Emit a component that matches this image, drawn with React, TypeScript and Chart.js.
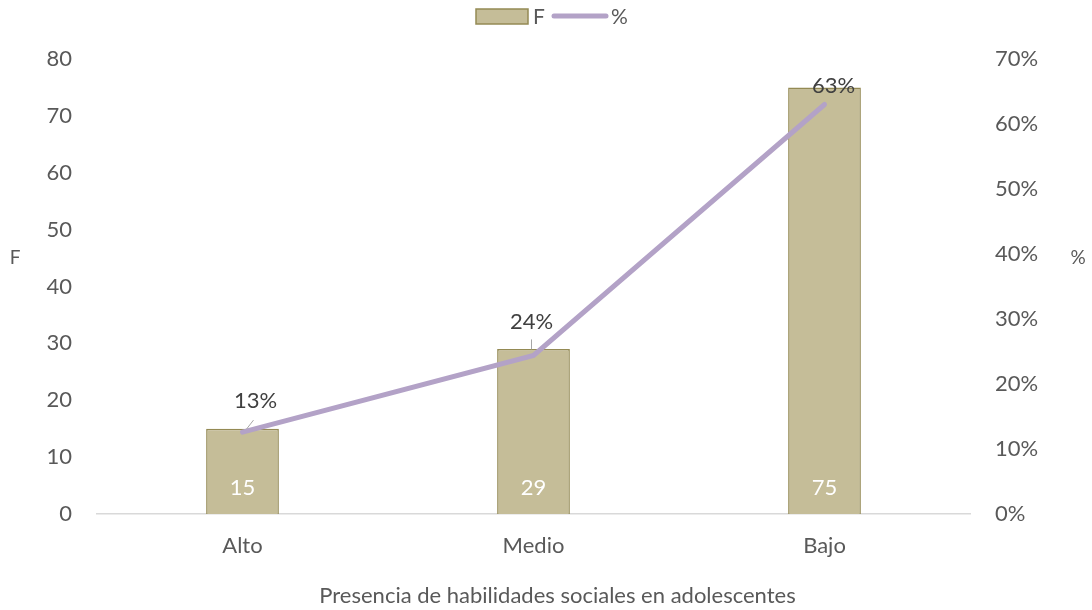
import React, { useEffect, useRef } from "react";
import { Chart, registerables } from "chart.js";

Chart.register(...registerables);

const categories = ["Alto", "Medio", "Bajo"];
const freqValues = [15, 29, 75];
const pctValues = [12.6, 24.4, 63.0];
const pctLabels = ["13%", "24%", "63%"];
const leftTicksMax = 80;
const rightTicksMax = 70;
const xTitle = "Presencia de habilidades sociales en adolescentes";
const seriesNames = ["F", "%"];

const FONT = "Lato, 'Liberation Sans', sans-serif";
const BAR_FILL = "#c5bd98";
const BAR_BORDER = "#948a54";
const LINE_COLOR = "#b3a2c7";

const labelPlugin = {
  id: "customLabels",
  afterDatasetsDraw(chart: any) {
    const ctx = chart.ctx;
    ctx.save();
    const barMeta = chart.getDatasetMeta(0);
    ctx.font = `22px ${FONT}`;
    ctx.fillStyle = "#ffffff";
    ctx.textAlign = "center";
    ctx.textBaseline = "middle";
    barMeta.data.forEach((el: any, i: number) => {
      ctx.fillText(String(freqValues[i]), el.x, el.base - 26);
    });
    const lineMeta = chart.getDatasetMeta(1);
    const dx = [13, -2, 9];
    const dy = [-31, -33, -19];
    lineMeta.data.forEach((el: any, i: number) => {
      const lx = el.x + dx[i];
      const ly = el.y + dy[i];
      if (i < 2) {
        ctx.strokeStyle = "#a6a6a6";
        ctx.lineWidth = 1;
        ctx.beginPath();
        if (i === 0) {
          ctx.moveTo(el.x + 4, el.y - 3);
          ctx.lineTo(el.x + 11, el.y - 12);
        } else {
          ctx.moveTo(el.x - 2, el.y - 6);
          ctx.lineTo(el.x - 2, el.y - 16);
        }
        ctx.stroke();
      }
      ctx.fillStyle = "#404040";
      ctx.font = `22px ${FONT}`;
      ctx.fillText(pctLabels[i], lx, ly);
    });
    ctx.restore();
  },
  afterDraw(chart: any) {
    const ctx = chart.ctx;
    const area = chart.chartArea;
    ctx.save();
    ctx.font = `19px ${FONT}`;
    ctx.fillStyle = "#595959";
    ctx.textAlign = "center";
    ctx.textBaseline = "middle";
    ctx.fillText(seriesNames[0], 15, 258);
    ctx.fillText(seriesNames[1], 1078, 258);
    // x axis title
    ctx.font = `22px ${FONT}`;
    ctx.fillText(xTitle, (area.left + area.right) / 2 + 24, 596);
    // legend
    const cx = chart.width / 2;
    const y = 16;
    ctx.fillStyle = BAR_FILL;
    ctx.strokeStyle = BAR_BORDER;
    ctx.lineWidth = 1.5;
    ctx.fillRect(cx - 70, y - 7, 52, 15);
    ctx.strokeRect(cx - 70, y - 7, 52, 15);
    ctx.font = `21px ${FONT}`;
    ctx.fillStyle = "#595959";
    ctx.textAlign = "left";
    ctx.fillText(seriesNames[0], cx - 13, y + 1);
    ctx.strokeStyle = LINE_COLOR;
    ctx.lineWidth = 5;
    ctx.lineCap = "round";
    ctx.beginPath();
    ctx.moveTo(cx + 8, y);
    ctx.lineTo(cx + 60, y);
    ctx.stroke();
    ctx.fillStyle = "#595959";
    ctx.fillText(seriesNames[1], cx + 65, y + 1);
    ctx.restore();
  },
};

export default function App() {
  const ref = useRef<HTMLCanvasElement>(null);
  useEffect(() => {
    document.body.style.margin = "0";
    const chart = new Chart(ref.current as HTMLCanvasElement, {
      type: "bar",
      data: {
        labels: categories,
        datasets: [
          {
            type: "bar",
            label: seriesNames[0],
            data: freqValues,
            backgroundColor: BAR_FILL,
            borderColor: BAR_BORDER,
            borderWidth: 1.5,
            yAxisID: "y",
            categoryPercentage: 1,
            barPercentage: 0.25,
            order: 2,
          },
          {
            type: "line",
            label: seriesNames[1],
            data: pctValues,
            borderColor: LINE_COLOR,
            borderWidth: 5,
            borderCapStyle: "round",
            pointRadius: 0,
            tension: 0,
            yAxisID: "y1",
            order: 1,
          } as any,
        ],
      },
      options: {
        responsive: false,
        animation: false,
        layout: { padding: { top: 59, bottom: 0, left: 0, right: 0 } },
        plugins: { legend: { display: false }, tooltip: { enabled: false } },
        scales: {
          x: {
            grid: { display: false, drawTicks: false },
            border: { display: true, color: "#d9d9d9", width: 1.5 },
            ticks: { color: "#595959", font: { family: FONT, size: 22 }, padding: 19 },
            afterFit(scale: any) {
              scale.height = 96;
            },
          },
          y: {
            position: "left",
            min: 0,
            max: leftTicksMax,
            ticks: { stepSize: 10, color: "#595959", font: { family: FONT, size: 22 }, padding: 25 },
            grid: { display: false, drawTicks: false },
            border: { display: false },
            afterFit(scale: any) {
              scale.width = 97;
              scale.paddingTop = 0;
              scale.paddingBottom = 0;
            },
          },
          y1: {
            position: "right",
            min: 0,
            max: rightTicksMax,
            ticks: {
              stepSize: 10,
              color: "#595959",
              font: { family: FONT, size: 22 },
              padding: 25,
              callback: (v: any) => v + "%",
            },
            grid: { display: false, drawTicks: false },
            border: { display: false },
            afterFit(scale: any) {
              scale.width = 122;
              scale.paddingTop = 0;
              scale.paddingBottom = 0;
            },
          },
        },
      },
      plugins: [labelPlugin],
    });
    return () => chart.destroy();
  }, []);
  return (
    <div style={{ width: 1092, height: 610, background: "#fff" }}>
      <canvas ref={ref} width={1092} height={610} />
    </div>
  );
}
